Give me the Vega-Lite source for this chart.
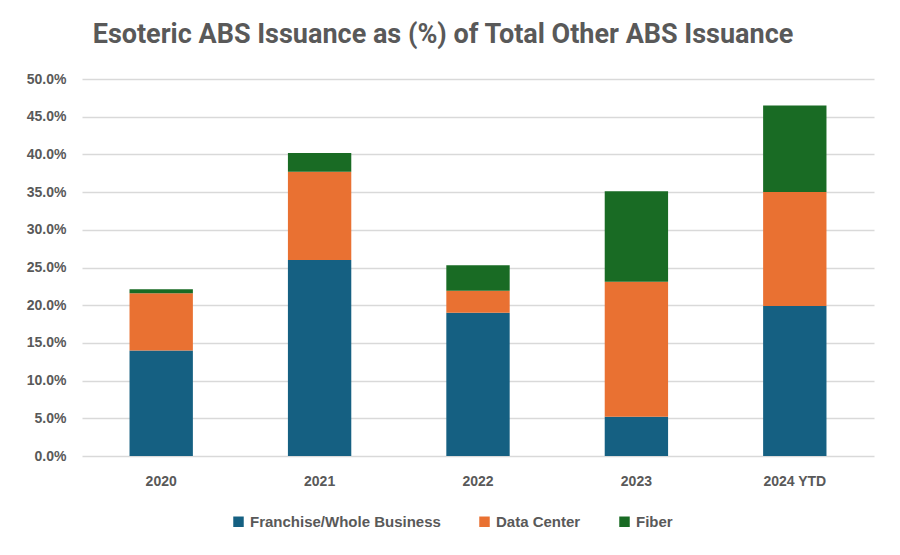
{
  "$schema": "https://vega.github.io/schema/vega-lite/v6.json",
  "width": 792,
  "height": 377,
  "autosize": {"type": "none"},
  "padding": {"left": 82, "top": 79, "right": 26, "bottom": 99},
  "background": "white",
  "title": {
    "text": "Esoteric ABS Issuance  as (%) of Total Other ABS Issuance",
    "font": "Liberation Sans Narrow, Roboto, sans-serif",
    "fontSize": 27,
    "fontWeight": "bold",
    "color": "#595959",
    "anchor": "middle",
    "offset": 30,
    "dy": 7,
    "dx": -35
  },
  "data": {
    "values": [
      {"year": "2020", "series": "Franchise/Whole Business", "order": 1, "value": 0.140},
      {"year": "2020", "series": "Data Center", "order": 2, "value": 0.076},
      {"year": "2020", "series": "Fiber", "order": 3, "value": 0.005},
      {"year": "2021", "series": "Franchise/Whole Business", "order": 1, "value": 0.260},
      {"year": "2021", "series": "Data Center", "order": 2, "value": 0.117},
      {"year": "2021", "series": "Fiber", "order": 3, "value": 0.025},
      {"year": "2022", "series": "Franchise/Whole Business", "order": 1, "value": 0.190},
      {"year": "2022", "series": "Data Center", "order": 2, "value": 0.029},
      {"year": "2022", "series": "Fiber", "order": 3, "value": 0.034},
      {"year": "2023", "series": "Franchise/Whole Business", "order": 1, "value": 0.052},
      {"year": "2023", "series": "Data Center", "order": 2, "value": 0.179},
      {"year": "2023", "series": "Fiber", "order": 3, "value": 0.120},
      {"year": "2024 YTD", "series": "Franchise/Whole Business", "order": 1, "value": 0.199},
      {"year": "2024 YTD", "series": "Data Center", "order": 2, "value": 0.151},
      {"year": "2024 YTD", "series": "Fiber", "order": 3, "value": 0.115}
    ]
  },
  "mark": {"type": "bar"},
  "encoding": {
    "x": {
      "field": "year",
      "type": "nominal",
      "sort": null,
      "scale": {"paddingInner": 0.6, "paddingOuter": 0.3},
      "axis": {
        "title": null,
        "labelAngle": 0,
        "labelFont": "Liberation Sans, sans-serif",
        "labelFontSize": 14,
        "labelFontWeight": "bold",
        "labelColor": "#595959",
        "domain": false,
        "ticks": false,
        "labelPadding": 18
      }
    },
    "y": {
      "field": "value",
      "type": "quantitative",
      "stack": "zero",
      "scale": {"domain": [0, 0.5]},
      "axis": {
        "title": null,
        "format": ".1%",
        "values": [0, 0.05, 0.1, 0.15, 0.2, 0.25, 0.3, 0.35, 0.4, 0.45, 0.5],
        "labelFont": "Liberation Sans, sans-serif",
        "labelFontSize": 14,
        "labelFontWeight": "bold",
        "labelColor": "#595959",
        "domain": false,
        "ticks": false,
        "labelPadding": 16,
        "gridColor": "#D9D9D9",
        "gridWidth": 1.5
      }
    },
    "color": {
      "field": "series",
      "type": "nominal",
      "scale": {
        "domain": ["Franchise/Whole Business", "Data Center", "Fiber"],
        "range": ["#156082", "#E97132", "#196B24"]
      },
      "legend": {
        "title": null,
        "orient": "none",
        "direction": "horizontal",
        "legendX": 149,
        "legendY": 435,
        "symbolType": "square",
        "symbolSize": 110,
        "symbolStrokeWidth": 0,
        "labelFont": "Liberation Sans, sans-serif",
        "labelFontSize": 15,
        "labelFontWeight": "bold",
        "labelColor": "#595959",
        "labelLimit": 0,
        "columnPadding": 36
      }
    },
    "order": {"field": "order", "type": "quantitative"}
  },
  "config": {"view": {"stroke": null}}
}
